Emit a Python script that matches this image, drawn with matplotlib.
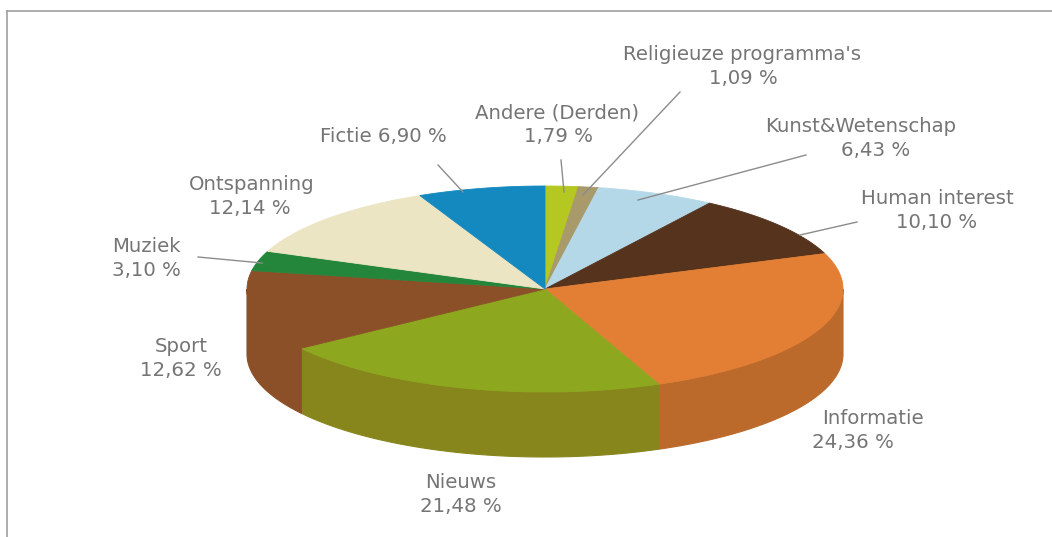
import matplotlib
matplotlib.use('Agg')
import matplotlib.pyplot as plt
import numpy as np

# categories clockwise from 12 o'clock
categories = ['Andere (Derden)', "Religieuze programma's", 'Kunst&Wetenschap', 'Human interest',
              'Informatie', 'Nieuws', 'Sport', 'Muziek', 'Ontspanning', 'Fictie']
values = [1.79, 1.09, 6.43, 10.10, 24.36, 21.48, 12.62, 3.10, 12.14, 6.90]

top_colors = ['#b5c822', '#a99a6c', '#b4d8e8', '#55331c', '#e27f35',
              '#8da81e', '#8c5029', '#24863a', '#ece5c4', '#1489bf']
side_colors = ['#8f9e1a', '#857954', '#8eabb8', '#432816', '#bb6a2b',
               '#87861c', '#8c5029', '#1c6a2e', '#bab59b', '#106c97']

# label centres in pixels (x, y of first line, y of second line)
label_x = [557, 742, 861, 937, 873, 461, 181, 146, 252, 383]
label_x2 = [558, 743, 876, 937, 853, 461, 181, 146, 250, 383]
label_y = [113, 55, 127, 198, 418, 482, 346, 247, 184, 137]

# leader lines (label end -> slice end), in pixels
leaders = [((561, 160), (564, 192)), ((680, 92), (583, 195)), ((806, 155), (638, 200)),
           ((857, 222), (800, 235)), ((198, 257), (262, 263)), ((438, 165), (463, 192))]

cx, cy = 545, 289
rx, ry = 298, 103
depth = 65

fig = plt.figure(figsize=(10.52, 5.37), dpi=100)
ax = fig.add_axes([0, 0, 1, 1])
ax.set_xlim(0, 1052)
ax.set_ylim(537, 0)
ax.axis('off')


def rim(a0, a1):
    t = np.radians(np.linspace(a0, a1, 120))
    return cx + rx * np.sin(t), cy - ry * np.cos(t)


edges = np.concatenate([[0], np.cumsum(values)]) / sum(values) * 360

# outer wall, only the front half (90..270 deg) can be seen
for i in range(len(values)):
    a0, a1 = max(edges[i], 90), min(edges[i + 1], 270)
    if a1 <= a0:
        continue
    x, y = rim(a0, a1)
    ax.fill(np.r_[x, x[::-1]], np.r_[y, y[::-1] + depth], color=side_colors[i], lw=0.8, zorder=2)

# top faces
for i in range(len(values)):
    x, y = rim(edges[i], edges[i + 1])
    ax.fill(np.r_[cx, x], np.r_[cy, y], color=top_colors[i], lw=0.6, zorder=3)

for (x0, y0), (x1, y1) in leaders:
    ax.plot([x0, x1], [y0, y1], color='#8c8c8c', lw=1, zorder=4)

# frame, only top and left are there
ax.plot([7, 1052], [11, 11], color='#a0a0a0', lw=1.2, zorder=1)
ax.plot([7, 7], [11, 537], color='#a0a0a0', lw=1.2, zorder=1)

text_color = '#757575'
fs = 14.2
for i, name in enumerate(categories):
    pct = f'{values[i]:.2f}'.replace('.', ',') + ' %'
    if name == 'Fictie':
        ax.text(label_x[i], label_y[i], f'{name} {pct}', ha='center', va='center',
                color=text_color, fontsize=fs, zorder=5)
        continue
    ax.text(label_x[i], label_y[i], name, ha='center', va='center', color=text_color, fontsize=fs, zorder=5)
    ax.text(label_x2[i], label_y[i] + 24, pct, ha='center', va='center', color=text_color, fontsize=fs, zorder=5)

fig.savefig('out.png', dpi=100)
